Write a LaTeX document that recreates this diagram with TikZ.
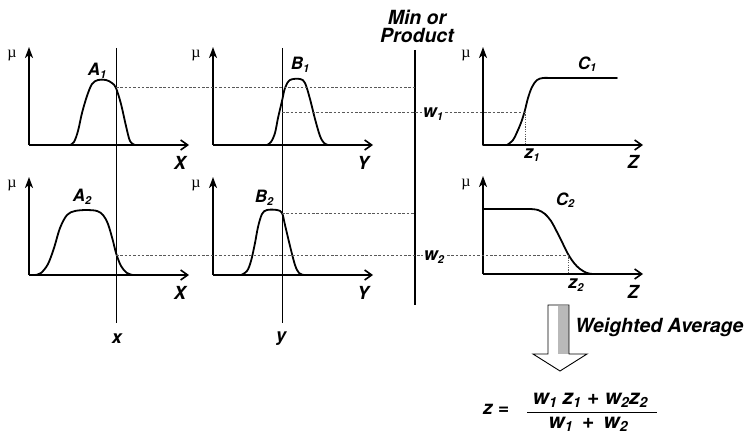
\documentclass[tikz,border=0pt]{standalone}
\usepackage{fontspec}
\setmainfont{TeX Gyre Heros}
\newfontfamily\mufont{Liberation Serif}
\usetikzlibrary{arrows.meta}
\newcommand{\sbs}[1]{\raisebox{-2.5pt}{\fontsize{11}{11}\selectfont #1}}
\newcommand{\fsb}[1]{\raisebox{-3pt}{\fontsize{14}{14}\selectfont #1}}
\begin{document}
\begin{tikzpicture}[x=1pt,y=-1pt,
  xaxis/.style={line width=1.8pt,-{Straight Barb[length=7pt,width=10pt,line width=1.6pt]}},
  yaxis/.style={line width=1.8pt,-{Stealth[length=11pt,width=8pt,inset=3pt]}},
  mf/.style={line width=1.8pt,line join=round,line cap=round},
  guide/.style={line width=0.9pt},
  lvl/.style={gray!70!black,line width=0.8pt,dash pattern=on 2.5pt off 1.8pt},
  dotv/.style={gray!70!black,line width=0.8pt,dash pattern=on 1.2pt off 1.2pt},
  lab/.style={font=\fontsize{18}{18}\selectfont\bfseries\itshape,inner sep=1pt},
  fn/.style={font=\fontsize{17}{17}\selectfont\bfseries\itshape,inner sep=1pt},
  frm/.style={font=\fontsize{21}{21}\selectfont\bfseries\itshape,inner sep=1pt},
  big/.style={font=\fontsize{19.5}{22}\selectfont\bfseries\itshape,inner sep=1pt,align=center},
  mu/.style={font=\mufont\fontsize{16}{16}\selectfont,inner sep=1pt}]
\useasboundingbox (0,0) rectangle (754,433);

% ---- axes ----
\foreach \ox/\oy/\nm in {29/145/a1,213/145/b1,483/145/c1,29/275/a2,213/275/b2,483/274/c2}{
  \coordinate (\nm o) at (\ox,\oy);
  \draw[yaxis] (\ox,\oy) -- (\ox,\oy-98);
  \draw[xaxis] (\ox,\oy) -- (\ox+160,\oy);
  \node[mu] at (\ox-17,\oy-89) {µ};
}

% ---- input lines ----
\coordinate (xtop) at (116,48);
\coordinate (xbot) at (116,323);
\coordinate (ytop) at (282,48);
\coordinate (ybot) at (282,323);
\draw[guide] (xtop) -- (xbot);
\draw[guide] (ytop) -- (ybot);
\node[lab] (xl) at (117,339) {x};
\node[lab] (yl) at (281,339) {y};

% ---- min line ----
\coordinate (mtop) at (415,50);
\coordinate (mbot) at (415,305);
\draw[line width=1.2pt] (mtop) -- (mbot);
\node[big] (minp) at (417,26) {Min or\\[-4pt]Product};

% ---- membership functions ----
\draw[mf] plot[smooth,tension=0.55] coordinates {(70,145)(74,142)(78,131)(82,113)(87,96)(92,84)(98,80)(106,80)(112,83)(116,88)(121,104)(126,126)(130,141)(135,145)};
\draw[mf] plot[smooth,tension=0.55] coordinates {(267,145)(271,142)(275,133)(278,118)(282,101)(285,88)(290,80)(300,79)(305,83)(310,99)(315,119)(320,136)(324,143)(328,145)};
\draw[mf] (483,145) -- (507,145) plot[smooth,tension=0.55] coordinates {(507,145)(513,140)(518,130)(522,120)(525,110)(528,98)(532,87)(537,80)(543,78)(550,78)} -- (617,78);

\draw[mf] plot[smooth,tension=0.55] coordinates {(35,275)(41,273)(48,264)(54,248)(60,228)(67,215)(75,211)(87,210)(97,211)(103,215)(108,224)(113,241)(116,253)(121,266)(127,273)(133,275)};
\draw[mf] plot[smooth,tension=0.55] coordinates {(241,275)(247,271)(251,261)(255,243)(258,227)(262,214)(267,210)(277,210)(282,213)(285,225)(290,246)(295,265)(299,273)(304,275)};
\draw[mf] (483,209) -- (530,209) plot[smooth,tension=0.55] coordinates {(530,209)(538,210)(545,214)(551,221)(557,232)(563,244)(568,254)(574,263)(580,269)(587,273)(593,274)};

% ---- level lines ----
\coordinate (a1v) at (116,87);
\coordinate (b1v) at (282,112);
\coordinate (a2v) at (116,255);
\coordinate (b2v) at (282,213);
\coordinate (z1p) at (525,112);
\coordinate (z2p) at (568,255);
\draw[lvl] (a1v) -- (a1v -| mtop);
\draw[lvl] (b1v) -- (z1p);
\draw[lvl] (b2v) -- (b2v -| mtop);
\draw[lvl] (a2v) -- (z2p);
\draw[dotv] (z1p) -- (z1p |- c1o);
\draw[dotv] (z2p) -- (z2p |- c2o);

% ---- labels ----
\node[fn] at (97,71) {A\sbs{1}};
\node[fn] at (300,65) {B\sbs{1}};
\node[fn] at (587,64) {C\sbs{1}};
\node[fn] at (82,197) {A\sbs{2}};
\node[fn] at (264,198) {B\sbs{2}};
\node[fn] at (565,200) {C\sbs{2}};
\node[lab] at (180,163) {X};
\node[lab] at (180,293) {X};
\node[lab] at (363,163) {Y};
\node[lab] at (363,293) {Y};
\node[lab] at (633,162) {Z};
\node[lab] at (633,292) {Z};
\node[lab] at (532,155) {z\sbs{1}};
\node[lab] at (576,285) {z\sbs{2}};
\node[lab,fill=white] at (433,114) {w\sbs{1}};
\node[lab,fill=white] at (434,257) {w\sbs{2}};

% ---- weighted average arrow ----
\fill[gray!55] (558,306) rectangle (569,354);
\draw[line width=0.9pt,line join=miter] (548,305) -- (569,305) -- (569,354) -- (587,354) -- (560,371) -- (533,354) -- (548,354) -- cycle;
\node[big,anchor=west] (wa) at (574,327) {Weighted Average};

% ---- formula ----
\node[lab,font=\fontsize{19}{19}\selectfont\bfseries\itshape] (zeq) at (496,409) {z =};
\node[frm,anchor=base] (num) at (590,404) {w\fsb{1} z\fsb{1} + w\fsb{2}z\fsb{2}};
\node[frm,anchor=base] (den) at (588,428) {w\fsb{1} \,+\, w\fsb{2}};
\draw[line width=1pt] (527,412) -- (657,412);
\end{tikzpicture}
\end{document}
